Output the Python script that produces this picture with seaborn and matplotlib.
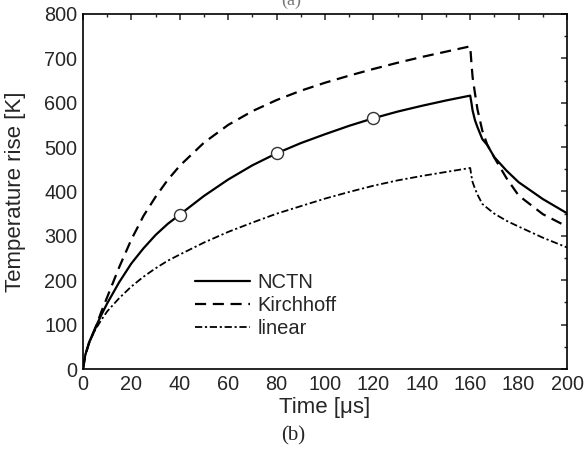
import pandas as pd
import matplotlib.pyplot as plt
import seaborn as sns
from matplotlib.ticker import MultipleLocator
from matplotlib.lines import Line2D

# values
time_us = [0, 1, 2.5, 5, 7.5, 10, 15, 20, 25, 30, 35, 40, 50, 60, 70, 80, 90, 100, 110, 120, 130, 140, 150, 160,
           160.5, 161, 162, 163, 165, 167, 170, 175, 180, 190, 200]
nctn = [0, 33, 60, 92, 121, 148, 196, 238, 272, 302, 327, 348, 390, 427, 459, 486, 509, 529, 548, 565, 580, 593, 605, 616,
        600, 582, 560, 545, 518, 505, 477, 447, 421, 383, 351]
kirchhoff = [0, 32, 58, 90, 128, 162, 230, 292, 345, 388, 426, 458, 510, 550, 581, 606, 627, 645, 661, 676, 690, 703, 715, 727,
             690, 657, 620, 585, 537, 506, 476, 430, 391, 349, 321]
linear = [0, 32, 58, 88, 110, 130, 160, 186, 208, 227, 244, 258, 285, 309, 330, 350, 367, 384, 399, 413, 425, 435, 444, 453,
          435, 421, 406, 393, 372, 363, 350, 334, 321, 296, 274]
marker_t = [40, 80, 120]

df = pd.DataFrame({"t": time_us, "NCTN": nctn, "Kirchhoff": kirchhoff, "linear": linear})
marks = df[df["t"].isin(marker_t)]

sns.set_style("white")
plt.rcParams["font.family"] = ["Liberation Sans", "DejaVu Sans"]

fig = plt.figure(figsize=(5.86, 4.49), dpi=100)
ax = fig.add_axes([0.1416, 0.178, 0.826, 0.791])

dash = (0, (5, 3))
dashdot = (0, (4, 1.5, 1.2, 1.5))

sns.lineplot(data=df, x="t", y="NCTN", ax=ax, color="black", lw=1.6, linestyle="-", errorbar=None)
sns.lineplot(data=df, x="t", y="Kirchhoff", ax=ax, color="black", lw=1.6, linestyle=dash, errorbar=None)
sns.lineplot(data=df, x="t", y="linear", ax=ax, color="black", lw=1.3, linestyle=dashdot, errorbar=None)
sns.scatterplot(data=marks, x="t", y="NCTN", ax=ax, marker="o", s=75, facecolor="white",
                edgecolor="#333333", linewidth=1.0, zorder=5)

ax.set_xlim(0, 200)
ax.set_ylim(0, 800)
ax.xaxis.set_major_locator(MultipleLocator(20))
ax.xaxis.set_minor_locator(MultipleLocator(10))
ax.yaxis.set_major_locator(MultipleLocator(100))
ax.yaxis.set_minor_locator(MultipleLocator(50))
ax.tick_params(which="both", direction="in", top=True, right=True, labelsize=14.3, pad=4)
ax.tick_params(which="major", length=4.5, width=1.1)
ax.tick_params(which="minor", length=2.5, width=1.0)
for s in ax.spines.values():
    s.set_color("black")
    s.set_linewidth(1.2)

ax.set_xlabel("Time [μs]", fontsize=16)
ax.set_ylabel("Temperature rise [K]", fontsize=16)
ax.xaxis.set_label_coords(0.5, -0.078)
ax.yaxis.set_label_coords(-0.118, 0.5)

handles = [Line2D([], [], color="black", lw=1.6, linestyle="-"),
           Line2D([], [], color="black", lw=1.6, linestyle=dash),
           Line2D([], [], color="black", lw=1.3, linestyle=dashdot)]
ax.legend(handles, ["NCTN", "Kirchhoff", "linear"], loc="upper left", bbox_to_anchor=(0.194, 0.322),
          frameon=False, fontsize=14.5, handlelength=2.75, handletextpad=0.35, labelspacing=0.2)

fig.text(0.5, 0.03, "(b)", ha="center", va="center", fontsize=15, family="Liberation Serif")
fig.text(0.497, 1.0, "(a)", ha="center", va="center", fontsize=13, family="Liberation Serif", color="#777777")

fig.savefig("out.png", dpi=100)
